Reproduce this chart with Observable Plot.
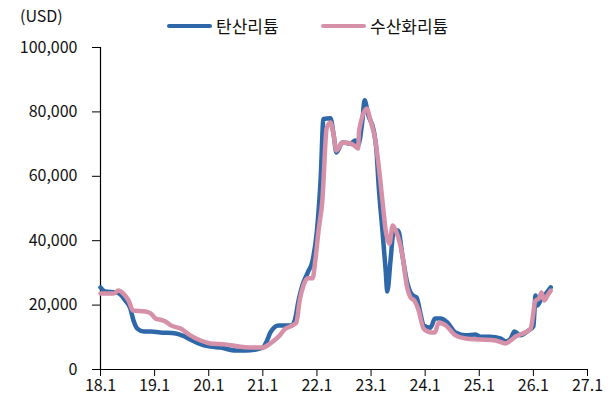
<!DOCTYPE html>
<html><head><meta charset="utf-8">
<script src="https://cdn.jsdelivr.net/npm/d3@7"></script>
<script src="https://cdn.jsdelivr.net/npm/@observablehq/plot@0.6"></script>
<style>
body{margin:0;background:#fff;font-family:"Noto Sans CJK KR","Noto Sans",sans-serif;}
#wrap{position:relative;width:616px;height:408px;}
#head{position:absolute;left:0;top:0;width:616px;height:38px;z-index:2;}
.u{position:absolute;left:20px;top:3px;font-size:16px;color:#111;}
.lg{position:absolute;top:13px;font-size:17px;color:#111;display:flex;align-items:center;}
.lg span.sw{display:inline-block;width:45px;height:4px;border-radius:2px;margin-right:4px;}
#chart svg{overflow:visible;}
</style></head>
<body>
<div id="wrap">
<div id="head">
<div class="u">(USD)</div>
<div class="lg" style="left:167px"><span class="sw" style="background:#2f68a9"></span>탄산리튬</div>
<div class="lg" style="left:321px"><span class="sw" style="background:#d690a7"></span>수산화리튬</div>
</div>
<div id="chart"></div>
</div>
<script>
const seriesNames = ["탄산리튬", "수산화리튬"];
const seriesColors = ["#2f68a9", "#d690a7"];
const yTicks = [0, 20000, 40000, 60000, 80000, 100000];
const xTicks = [2018, 2019, 2020, 2021, 2022, 2023, 2024, 2025, 2026, 2027];

const carbonateT = [2018.0,2018.09,2018.28,2018.37,2018.46,2018.55,2018.61,2018.68,2018.8,2018.93,2019.1,2019.39,2019.52,2019.66,2019.81,2020.03,2020.22,2020.5,2020.68,2020.87,2021.0,2021.07,2021.14,2021.29,2021.42,2021.53,2021.59,2021.66,2021.73,2021.83,2021.92,2022.0,2022.07,2022.12,2022.25,2022.31,2022.36,2022.47,2022.62,2022.71,2022.76,2022.84,2022.88,2022.95,2023.05,2023.1,2023.14,2023.21,2023.27,2023.3,2023.36,2023.42,2023.5,2023.58,2023.66,2023.77,2023.84,2023.92,2023.97,2024.1,2024.18,2024.28,2024.41,2024.56,2024.75,2024.93,2025.02,2025.2,2025.4,2025.49,2025.58,2025.65,2025.76,2025.91,2026.0,2026.04,2026.07,2026.15,2026.22,2026.32];
const carbonateV = [25500,24200,24000,23300,21400,19000,15200,12700,11800,11800,11500,11200,10500,9300,8100,7100,6800,5900,5900,6200,6800,8700,11500,13700,13700,13700,15200,21400,26100,30100,33900,43200,59600,77800,78000,72700,67400,70500,70200,71100,69600,77300,83600,78900,74200,68000,57200,43200,30700,24200,33900,43200,43200,35400,27600,23000,22400,16800,13700,13000,15800,15800,14600,11500,10600,10900,10200,10200,9600,8700,9600,11800,10600,12100,13400,23000,19900,22000,23300,25500];

const hydroxideT = [2018.0,2018.24,2018.33,2018.42,2018.52,2018.6,2018.83,2018.93,2019.02,2019.1,2019.2,2019.3,2019.48,2019.66,2019.85,2020.03,2020.3,2020.59,2020.87,2021.0,2021.14,2021.29,2021.42,2021.55,2021.62,2021.68,2021.75,2021.83,2021.92,2021.97,2022.03,2022.1,2022.18,2022.25,2022.31,2022.36,2022.47,2022.62,2022.71,2022.76,2022.78,2022.92,2022.99,2023.08,2023.14,2023.21,2023.27,2023.34,2023.4,2023.47,2023.58,2023.66,2023.73,2023.8,2023.88,2023.97,2024.1,2024.18,2024.25,2024.38,2024.56,2024.75,2025.02,2025.3,2025.49,2025.58,2025.67,2025.85,2025.95,2026.04,2026.1,2026.15,2026.2,2026.26,2026.32];
const hydroxideV = [23600,23600,24500,23600,21400,18300,18000,17400,15800,15500,14900,13700,12700,10600,9000,8100,7800,7100,6800,6800,8100,10200,12700,13700,14600,21400,26100,28300,28300,33900,43200,52500,74900,76700,72700,68000,70500,70200,69300,68600,74200,81000,77300,71100,63400,52500,43200,39100,44700,42600,35400,26100,22400,21400,18300,12700,11500,11500,14600,13700,10600,9600,9300,9000,8100,9000,10200,11500,12700,21400,22000,23900,21400,23000,24500];

const rows = [];
carbonateT.forEach((t, i) => rows.push({t, v: carbonateV[i], s: seriesNames[0]}));
hydroxideT.forEach((t, i) => rows.push({t, v: hydroxideV[i], s: seriesNames[1]}));

const fmtX = d => `${d - 2000}.1`;
const chart = Plot.plot({
  width: 616,
  height: 408,
  marginLeft: 100,
  marginRight: 29,
  marginTop: 47,
  marginBottom: 39,
  style: {fontFamily: '"Noto Sans CJK KR","Noto Sans",sans-serif', fontSize: "16px", color: "#111", background: "transparent", overflow: "visible"},
  x: {domain: [2018, 2027], label: null},
  y: {domain: [0, 100000], label: null},
  color: {domain: seriesNames, range: seriesColors},
  marks: [
    Plot.axisX({ticks: xTicks, tickFormat: fmtX, tickSize: 7, tickPadding: 3, label: null, stroke: "#000", fontSize: 16}),
    Plot.axisY({ticks: yTicks, tickFormat: d => d3.format(",")(d), tickSize: 8, tickPadding: 15, label: null, stroke: "#000", fontSize: 16}),
    Plot.ruleX([2018], {stroke: "#000", strokeWidth: 1.2}),
    Plot.ruleY([0], {stroke: "#000", strokeWidth: 1.2}),
    Plot.line(rows, {x: "t", y: "v", z: "s", stroke: "s", strokeWidth: 4.5, strokeLinejoin: "round", strokeLinecap: "round", curve: "monotone-x"})
  ]
});
document.getElementById("chart").appendChild(chart);
</script>
</body></html>
